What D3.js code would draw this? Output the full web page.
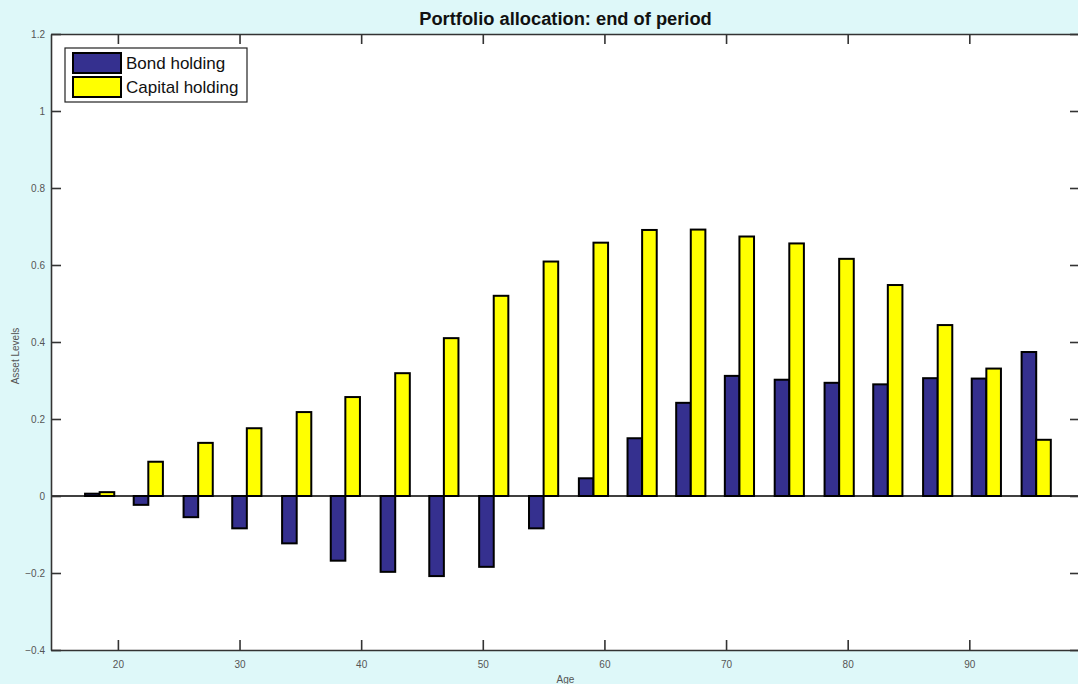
<!DOCTYPE html>
<html>
<head>
<meta charset="utf-8">
<script src="https://cdn.jsdelivr.net/npm/d3@7"></script>
<style>
  html, body { margin: 0; padding: 0; background: #def8f9; }
  svg { display: block; }
  text { font-family: "Liberation Sans", Arial, sans-serif; }
</style>
</head>
<body>
<svg id="chart" width="1078" height="684"></svg>
<script>
// ---- data ----
const ages = [18.5, 22.5, 26.6, 30.6, 34.7, 38.7, 42.8, 46.8, 50.9, 55.0,
              59.1, 63.1, 67.1, 71.1, 75.2, 79.3, 83.3, 87.4, 91.4, 95.5];
const bondHolding = [0.006, -0.023, -0.055, -0.084, -0.123, -0.168, -0.197, -0.208, -0.184, -0.084,
                     0.046, 0.150, 0.242, 0.312, 0.302, 0.294, 0.290, 0.306, 0.305, 0.374];
const capitalHolding = [0.010, 0.089, 0.138, 0.176, 0.218, 0.257, 0.319, 0.410, 0.520, 0.609,
                        0.658, 0.691, 0.692, 0.674, 0.656, 0.616, 0.548, 0.444, 0.331, 0.146];
const xTicks = [20, 30, 40, 50, 60, 70, 80, 90];
const yTicks = [-0.4, -0.2, 0, 0.2, 0.4, 0.6, 0.8, 1, 1.2];
const seriesNames = ["Bond holding", "Capital holding"];
const seriesColors = ["#35308f", "#ffff00"];
const titleText = "Portfolio allocation: end of period";
const xLabel = "Age";
const yLabel = "Asset Levels";

// ---- layout ----
const svg = d3.select("#chart");
const L = 51, R = 1080, T = 34, B = 650;
const x = d3.scaleLinear().domain([14.5, 99.1]).range([L, R]);
const y = d3.scaleLinear().domain([-0.4, 1.2]).range([B, T]);
const barW = 1.2; // in years

// plot background
svg.append("rect").attr("x", L).attr("y", T).attr("width", R - L).attr("height", B - T).attr("fill", "#ffffff");

// bars
const gBars = svg.append("g");
const seriesList = [bondHolding, capitalHolding];
seriesList.forEach((vals, si) => {
  gBars.selectAll(null).data(vals).enter().append("rect")
    .attr("x", (d, i) => x(ages[i] - barW + si * barW))
    .attr("width", x(barW) - x(0))
    .attr("y", d => y(Math.max(0, d)))
    .attr("height", d => Math.abs(y(d) - y(0)))
    .attr("fill", seriesColors[si])
    .attr("stroke", "#000")
    .attr("stroke-width", 2);
});

// baseline
svg.append("line").attr("x1", L).attr("x2", R).attr("y1", y(0)).attr("y2", y(0))
  .attr("stroke", "#000").attr("stroke-width", 1.5);

// axes (ticks inward)
const axisColor = "#333";
const tickFmt = d => d3.format("~g")(d);
const axBottom = svg.append("g").attr("transform", `translate(0,${B})`)
  .call(d3.axisBottom(x).tickValues(xTicks).tickSizeInner(-10).tickSizeOuter(0).tickPadding(11).tickFormat(tickFmt));
const axTop = svg.append("g").attr("transform", `translate(0,${T})`)
  .call(d3.axisTop(x).tickValues(xTicks).tickSizeInner(-10).tickSizeOuter(0).tickFormat(""));
const axLeft = svg.append("g").attr("transform", `translate(${L},0)`)
  .call(d3.axisLeft(y).tickValues(yTicks).tickSizeInner(-10).tickSizeOuter(0).tickPadding(6).tickFormat(tickFmt));
const axRight = svg.append("g").attr("transform", `translate(${R},0)`)
  .call(d3.axisRight(y).tickValues(yTicks).tickSizeInner(-10).tickSizeOuter(0).tickFormat(""));
[axBottom, axTop, axLeft, axRight].forEach(a => {
  a.select(".domain").attr("stroke", axisColor).attr("stroke-width", 1.6);
  a.selectAll(".tick line").attr("stroke", axisColor).attr("stroke-width", 1.6);
  a.selectAll(".tick text").attr("fill", "#555").attr("font-size", 10)
    .attr("font-family", "'Liberation Sans', Arial, sans-serif");
});

// title and labels
svg.append("text").attr("x", (L + R) / 2).attr("y", 25).attr("text-anchor", "middle")
  .attr("font-size", 18.3).attr("font-weight", "bold").attr("fill", "#111").text(titleText);
svg.append("text").attr("x", (L + R) / 2).attr("y", 683).attr("text-anchor", "middle")
  .attr("font-size", 10).attr("fill", "#555").text(xLabel);
svg.append("text").attr("transform", `translate(19,${(T + B) / 2 + 14}) rotate(-90)`)
  .attr("text-anchor", "middle").attr("font-size", 10).attr("fill", "#555").text(yLabel);

// legend
const lg = svg.append("g").attr("transform", "translate(65,48)");
lg.append("rect").attr("width", 182).attr("height", 54).attr("fill", "#fff")
  .attr("stroke", "#222").attr("stroke-width", 1.2);
seriesNames.forEach((name, i) => {
  lg.append("rect").attr("x", 8).attr("y", 5 + i * 24).attr("width", 48).attr("height", 20)
    .attr("fill", seriesColors[i]).attr("stroke", "#000").attr("stroke-width", 2);
  lg.append("text").attr("x", 61).attr("y", 21 + i * 24).attr("font-size", 17)
    .attr("fill", "#111").text(name);
});
</script>
</body>
</html>
